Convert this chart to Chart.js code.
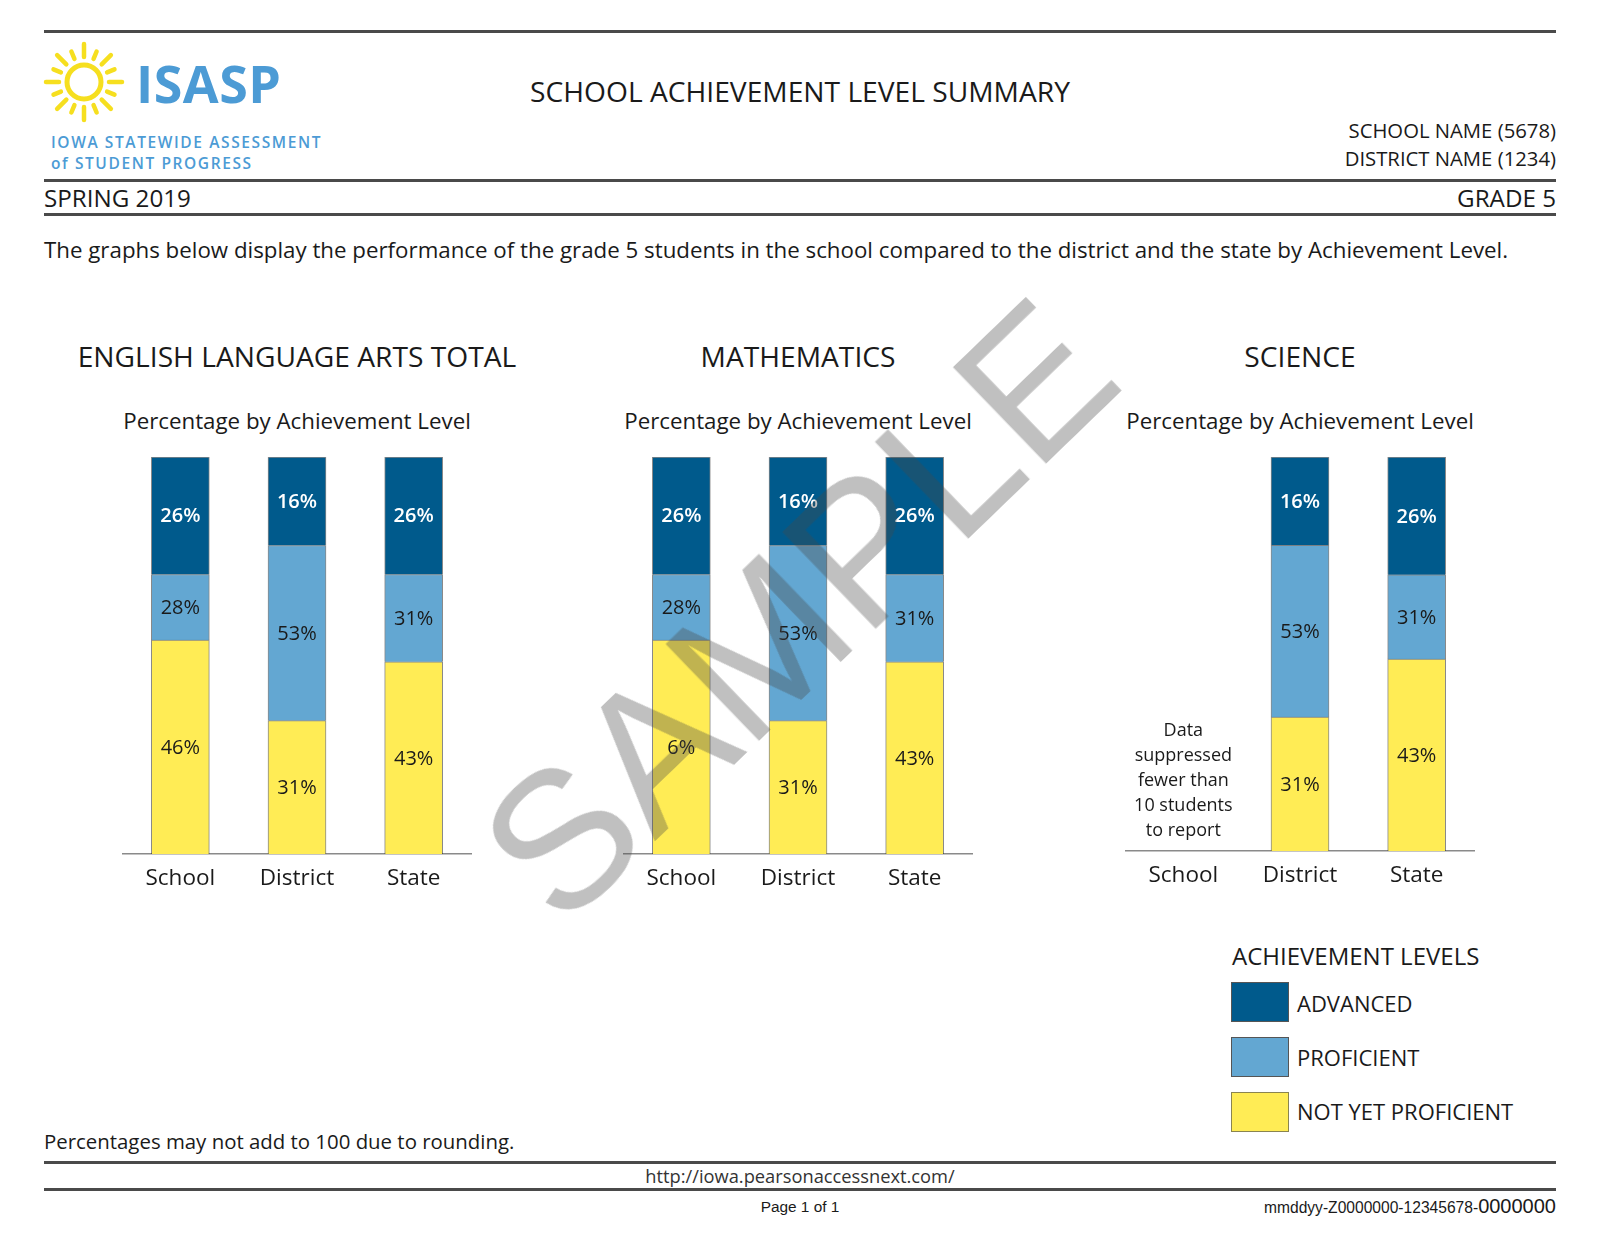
<!DOCTYPE html>
<html>
<head>
<meta charset="utf-8">
<script src="https://cdn.jsdelivr.net/npm/chart.js@4.4.1/dist/chart.umd.min.js"></script>
<style>
  body { margin: 0; background: #fff; }
  #page { position: relative; width: 1600px; height: 1236px; overflow: hidden; font-family: "Open Sans", sans-serif; color: #1a1a1a; }
  .t { position: absolute; white-space: nowrap; line-height: 1; transform: translateY(-50%); }
  .c { transform: translate(-50%, -50%); }
  .rule { position: absolute; left: 44px; width: 1512px; height: 3px; background: #4a4a4a; }
  .box { position: absolute; }
  .sw { position: absolute; left: 1231px; width: 56px; height: 38px; border: 1px solid #555; }
  #sample { position: absolute; left: 798px; top: 610px; font-family: "Liberation Sans", Arial, sans-serif; font-size: 194px; line-height: 1; color: rgba(70,70,70,0.34); transform: translate(-50%, -50%) rotate(-44deg); white-space: nowrap; pointer-events: none; z-index: 10; }
</style>
</head>
<body>
<div id="page">
  <div class="rule" style="top:30px"></div>
  <div class="rule" style="top:179px"></div>
  <div class="rule" style="top:213px"></div>

  <svg class="box" style="left:43px;top:41px" width="82" height="82" viewBox="0 0 82 82" id="sun"></svg>
  <div class="t" style="left:136px;top:83px;font-size:52px;font-weight:700;color:#4c9bd5;letter-spacing:0.5px">ISASP</div>
  <div class="t" style="left:51px;top:143px;font-size:15.5px;font-weight:600;color:#4c9bd5;letter-spacing:1.6px">IOWA STATEWIDE ASSESSMENT</div>
  <div class="t" style="left:51px;top:164px;font-size:15.5px;font-weight:600;color:#4c9bd5;letter-spacing:1.6px">of STUDENT PROGRESS</div>

  <div class="t c" style="left:800px;top:91px;font-size:28.2px">SCHOOL ACHIEVEMENT LEVEL SUMMARY</div>
  <div class="t" style="right:44px;top:130px;font-size:20.3px">SCHOOL NAME (5678)</div>
  <div class="t" style="right:44px;top:158px;font-size:20.3px">DISTRICT NAME (1234)</div>
  <div class="t" style="left:44px;top:198px;font-size:24.2px">SPRING 2019</div>
  <div class="t" style="right:44px;top:198px;font-size:24.2px">GRADE 5</div>
  <div class="t" style="left:44px;top:250px;font-size:22.3px">The graphs below display the performance of the grade 5 students in the school compared to the district and the state by Achievement Level.</div>

  <div class="t c" style="left:297px;top:356px;font-size:28.2px">ENGLISH LANGUAGE ARTS TOTAL</div>
  <div class="t c" style="left:798px;top:356px;font-size:28.2px">MATHEMATICS</div>
  <div class="t c" style="left:1300px;top:356px;font-size:28.2px">SCIENCE</div>
  <div class="t c" style="left:297px;top:421px;font-size:22.3px">Percentage by Achievement Level</div>
  <div class="t c" style="left:798px;top:421px;font-size:22.3px">Percentage by Achievement Level</div>
  <div class="t c" style="left:1300px;top:421px;font-size:22.3px">Percentage by Achievement Level</div>

  <div class="box" style="left:122px;top:455px;width:350px;height:448px"><canvas id="ela"></canvas></div>
  <div class="box" style="left:623px;top:455px;width:350px;height:448px"><canvas id="math"></canvas></div>
  <div class="box" style="left:1125px;top:455px;width:350px;height:445px"><canvas id="sci"></canvas></div>

  <div class="t" style="left:1232px;top:956px;font-size:24px">ACHIEVEMENT LEVELS</div>
  <div class="sw" style="top:982px;background:#005a8c"></div>
  <div class="sw" style="top:1037px;background:#63a7d2"></div>
  <div class="sw" style="top:1092px;background:#ffec55;border-color:#8a8450"></div>
  <div class="t" style="left:1297px;top:1003px;font-size:22px">ADVANCED</div>
  <div class="t" style="left:1297px;top:1057px;font-size:22px">PROFICIENT</div>
  <div class="t" style="left:1297px;top:1111px;font-size:22px">NOT YET PROFICIENT</div>

  <div class="t" style="left:44px;top:1141px;font-size:20.4px">Percentages may not add to 100 due to rounding.</div>
  <div class="rule" style="top:1161px"></div>
  <div class="t c" style="left:800px;top:1176px;font-size:18.3px;color:#333">http://iowa.pearsonaccessnext.com/</div>
  <div class="rule" style="top:1188px"></div>
  <div class="t c" style="left:800px;top:1207px;font-size:15.4px;font-family:'Liberation Sans',Arial,sans-serif">Page 1 of 1</div>
  <div class="t" style="right:44px;top:1206px;font-size:15.6px;font-family:'Liberation Sans',Arial,sans-serif">mmddyy-Z0000000-12345678-<span style="font-size:20px">0000000</span></div>

  <div id="sample">SAMPLE</div>
</div>

<script>
const categories = ["School", "District", "State"];

// segment heights as drawn in the report (percent of bar)
const elaNotYet = [53.9, 33.6, 48.4];
const elaProficient = [16.5, 44.1, 22.0];
const elaAdvanced = [29.6, 22.3, 29.6];
// printed labels
const elaNotYetTxt = ["46%", "31%", "43%"];
const elaProficientTxt = ["28%", "53%", "31%"];
const elaAdvancedTxt = ["26%", "16%", "26%"];

const mathNotYet = [53.9, 33.6, 48.4];
const mathProficient = [16.5, 44.1, 22.0];
const mathAdvanced = [29.6, 22.3, 29.6];
const mathNotYetTxt = ["6%", "31%", "43%"];
const mathProficientTxt = ["28%", "53%", "31%"];
const mathAdvancedTxt = ["26%", "16%", "26%"];

// school data suppressed in science
const sciNotYet = [null, 34.0, 48.7];
const sciProficient = [null, 43.6, 21.4];
const sciAdvanced = [null, 22.4, 29.9];
const sciNotYetTxt = ["", "31%", "43%"];
const sciProficientTxt = ["", "53%", "31%"];
const sciAdvancedTxt = ["", "16%", "26%"];
const suppressedNote = ["Data", "suppressed", "fewer than", "10 students", "to report"];

const colors = {
  notYet: "#ffec55",
  proficient: "#63a7d2",
  advanced: "#005a8c",
};

// sun logo
const sun = document.getElementById("sun");
let svg = '<circle cx="41" cy="41" r="17" fill="none" stroke="#f6df1f" stroke-width="5"/>';
for (let i = 0; i < 16; i++) {
  const a = i * Math.PI / 8;
  const r1 = 25;
  const r2 = i % 2 ? 33 : 38;
  svg += `<line x1="${41 + r1 * Math.cos(a)}" y1="${41 + r1 * Math.sin(a)}" x2="${41 + r2 * Math.cos(a)}" y2="${41 + r2 * Math.sin(a)}" stroke="#f6df1f" stroke-width="4.5" stroke-linecap="round"/>`;
}
sun.innerHTML = svg;

const segLabels = {
  id: "segLabels",
  afterDatasetsDraw(chart) {
    const ctx = chart.ctx;
    chart.data.datasets.forEach((ds, i) => {
      const meta = chart.getDatasetMeta(i);
      meta.data.forEach((bar, j) => {
        const txt = ds.texts[j];
        if (!txt) return;
        const c = bar.getCenterPoint();
        ctx.save();
        ctx.font = (ds.textColor === "#fff" ? "600 " : "400 ") + "20px 'Open Sans'";
        ctx.fillStyle = ds.textColor;
        ctx.textAlign = "center";
        ctx.textBaseline = "middle";
        ctx.fillText(txt, c.x, c.y + 1);
        ctx.restore();
      });
    });
    const note = chart.options.plugins.segLabels.note;
    if (note) {
      const x = chart.scales.x.getPixelForValue(0);
      const bottom = chart.chartArea.bottom;
      ctx.save();
      ctx.font = "18px 'Open Sans'";
      ctx.fillStyle = "#1a1a1a";
      ctx.textAlign = "center";
      ctx.textBaseline = "middle";
      note.forEach((line, k) => {
        ctx.fillText(line, x, bottom - 20 - (note.length - 1 - k) * 25);
      });
      ctx.restore();
    }
  },
};

function makeChart(id, notYet, prof, adv, notYetTxt, profTxt, advTxt, note) {
  const base = {
    borderColor: "rgba(40,40,40,0.55)",
    borderWidth: 1,
    borderSkipped: "start",
    barThickness: 58,
  };
  return new Chart(document.getElementById(id), {
    type: "bar",
    data: {
      labels: categories,
      datasets: [
        {...base, label: "NOT YET PROFICIENT", data: notYet, backgroundColor: colors.notYet, texts: notYetTxt, textColor: "#1a1a1a"},
        {...base, label: "PROFICIENT", data: prof, backgroundColor: colors.proficient, texts: profTxt, textColor: "#1a1a1a"},
        {...base, label: "ADVANCED", data: adv, backgroundColor: colors.advanced, texts: advTxt, textColor: "#fff"},
      ],
    },
    options: {
      responsive: true,
      maintainAspectRatio: false,
      animation: false,
      layout: {padding: {top: 2, left: 0, right: 0, bottom: 0}},
      plugins: {
        legend: {display: false},
        tooltip: {enabled: false},
        segLabels: {note: note},
      },
      scales: {
        x: {
          stacked: true,
          grid: {display: false, drawTicks: false},
          border: {display: true, color: "#8a8a8a", width: 1.5},
          ticks: {color: "#1a1a1a", font: {family: "Open Sans", size: 22.5}, padding: 11},
        },
        y: {
          stacked: true,
          display: false,
          min: 0,
          max: 100,
        },
      },
    },
    plugins: [segLabels],
  });
}

makeChart("ela", elaNotYet, elaProficient, elaAdvanced, elaNotYetTxt, elaProficientTxt, elaAdvancedTxt, null);
makeChart("math", mathNotYet, mathProficient, mathAdvanced, mathNotYetTxt, mathProficientTxt, mathAdvancedTxt, null);
makeChart("sci", sciNotYet, sciProficient, sciAdvanced, sciNotYetTxt, sciProficientTxt, sciAdvancedTxt, suppressedNote);
</script>
</body>
</html>
